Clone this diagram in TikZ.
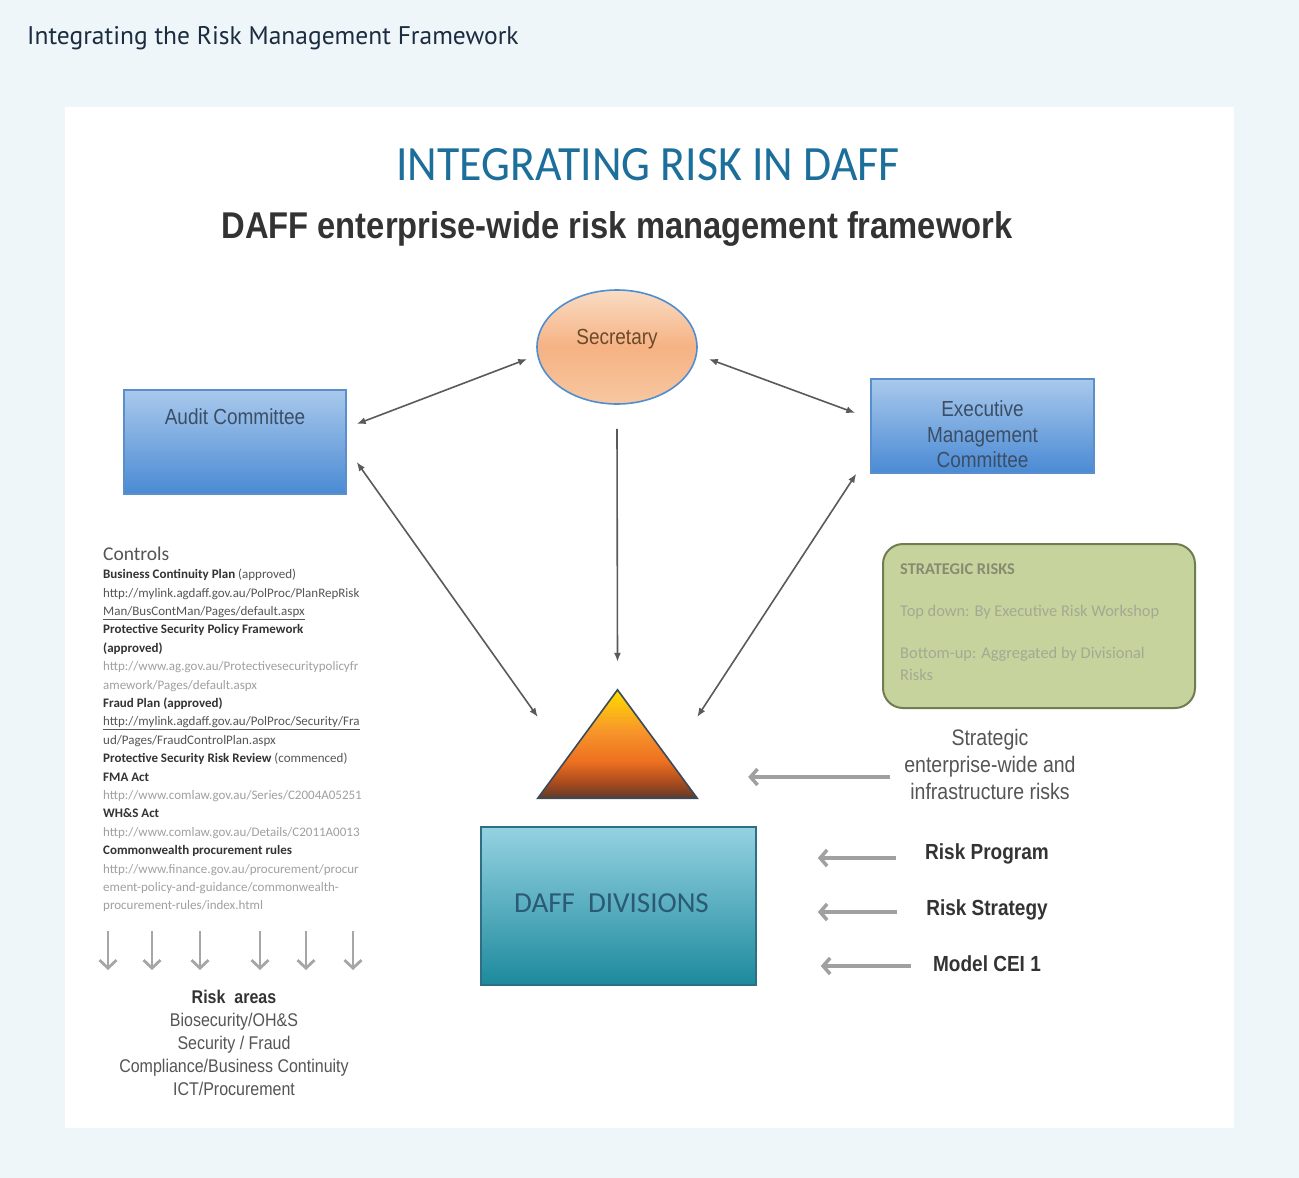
\documentclass[tikz,border=0pt]{standalone}
\usepackage{graphicx}
\usepackage{fontspec}
\setmainfont{Liberation Sans}
\newfontfamily\carl{Carlito}
\newfontfamily\ptsans{PT Sans}
\usetikzlibrary{arrows.meta,shapes.geometric}
\newcommand\tall[1]{\scalebox{1}[1.15]{#1}}
\definecolor{bg}{HTML}{EEF6FA}
\definecolor{head}{HTML}{1B2B40}
\definecolor{ttl}{HTML}{1C6E9B}
\definecolor{sub}{HTML}{333333}
\definecolor{secb}{HTML}{4F8ED0}
\definecolor{sectop}{HTML}{F9DCC4}
\definecolor{secmid}{HTML}{F6B283}
\definecolor{secbot}{HTML}{F7C7A0}
\definecolor{sectxt}{HTML}{6B4A2A}
\definecolor{boxb}{HTML}{5B8FCB}
\definecolor{boxtop}{HTML}{A9C9EC}
\definecolor{boxbot}{HTML}{4A8AD4}
\definecolor{boxtxt}{HTML}{3B4E66}
\definecolor{strfill}{HTML}{C6D39C}
\definecolor{strb}{HTML}{6E7E50}
\definecolor{strh}{HTML}{858C72}
\definecolor{strt}{HTML}{A3A993}
\definecolor{trib}{HTML}{3A4A5A}
\definecolor{triA}{HTML}{5C3A2A}
\definecolor{triB}{HTML}{A84A1E}
\definecolor{triC}{HTML}{EE7020}
\definecolor{triD}{HTML}{F7952A}
\definecolor{triE}{HTML}{FFDC00}
\definecolor{daffb}{HTML}{2F6F86}
\definecolor{dafftop}{HTML}{95D2E2}
\definecolor{daffbot}{HTML}{1C8A9C}
\definecolor{dafftxt}{HTML}{2B5A73}
\definecolor{arrc}{HTML}{5A5A5A}
\definecolor{garc}{HTML}{A0A0A0}
\definecolor{darkt}{HTML}{333333}
\definecolor{midt}{HTML}{555555}
\definecolor{lightt}{HTML}{A0A0A0}
\pgfdeclareverticalshading{trishade}{100bp}{color(0bp)=(triA); color(25bp)=(triA); color(32bp)=(triB); color(42bp)=(triC); color(56bp)=(triD); color(75bp)=(triE); color(100bp)=(triE)}
\tikzset{
  bluebox/.style={draw=boxb, line width=1.4pt, top color=boxtop, bottom color=boxbot, inner sep=0pt, text=boxtxt, font=\fontsize{19}{22}\selectfont},
  darr/.style={draw=arrc, line width=1.6pt, {Latex[length=9pt,width=7pt]}-{Latex[length=9pt,width=7pt]}},
  sarr/.style={draw=arrc, line width=1.6pt, -{Latex[length=9pt,width=7pt]}},
  garr/.style={draw=garc, line width=3.5pt, -{Straight Barb[length=7pt,width=16pt]}},
  downarr/.style={draw=gray!70, line width=2.8pt, -{Straight Barb[length=8pt,width=17pt]}},
  plain/.style={inner sep=0pt}
}
\begin{document}
\begin{tikzpicture}[x=1pt,y=-1pt]
\useasboundingbox (0,0) rectangle (1299,1178);
\fill[bg] (0,0) rectangle (1299,1178);
\fill[white] (65,107) rectangle (1234,1128);

\node[plain, anchor=west, font=\ptsans\fontsize{25.5}{30}\selectfont, text=head] (hd) at (27,38) {Integrating the Risk Management Framework};

\node[plain, anchor=base, text=ttl] (t1) at (648,180) {\resizebox{503pt}{32pt}{\carl INTEGRATING RISK IN DAFF}};
\node[plain, anchor=base, text=sub] (t2) at (617,238) {\resizebox{791pt}{27pt}{\bfseries DAFF enterprise-wide risk management framework}};

% Secretary
\node[ellipse, draw=secb, line width=1.6pt, minimum width=160pt, minimum height=114pt, top color=sectop, bottom color=secbot, middle color=secmid, text=sectxt, font=\fontsize{19}{22}\selectfont] (sec) at (617,347) {\raisebox{8pt}[\height][\depth]{\tall{Secretary}}};

% Audit committee
\node[bluebox, minimum width=222pt, minimum height=104pt] (audit) at (235,442) {\raisebox{25pt}[\height][\depth]{\tall{Audit Committee}}};

% Executive Management Committee
\node[bluebox, minimum width=223pt, minimum height=94pt] (exec) at (982.5,426) {\raisebox{-11pt}[\height][\depth]{\tall{\begin{tabular}{@{}c@{}}Executive\\Management\\Committee\end{tabular}}}};

% Strategic risks box
\node[draw=strb, line width=2pt, fill=strfill, rounded corners=20pt, minimum width=312pt, minimum height=164pt] (sbox) at (1039,626) {};
\node[plain, anchor=north west, align=left, font=\carl\fontsize{16.4}{22}\selectfont, text=strt] (stext) at (900,564)
  {{\color{strh}\bfseries STRATEGIC RISKS}\\[20pt]Top down: By Executive Risk Workshop\\[20pt]Bottom-up: Aggregated by Divisional\\Risks};

% Triangle
\node[plain, minimum width=159pt, minimum height=108pt] (tri) at (617.5,744) {};
\shade[shading=trishade, draw=trib, line width=1.6pt] (tri.north) -- (tri.south east) -- (tri.south west) -- cycle;

% DAFF divisions
\node[draw=daffb, line width=1.6pt, minimum width=275pt, minimum height=158pt, top color=dafftop, bottom color=daffbot, text=dafftxt, font=\carl\fontsize{29}{32}\selectfont] (daff) at (618.5,906) {\raisebox{3pt}[\height][\depth]{DAFF\ \ DIVISIONS}\kern14pt};

% Arrows between main nodes
\draw[darr] ([shift={(-9,12)}]sec.west) -- ([shift={(10,-18)}]audit.east);
\draw[darr] ([shift={(11,12)}]sec.east) -- ([shift={(-15,-13)}]exec.west);
\draw[sarr] ([shift={(0,24)}]sec.south) -- ([shift={(0,-28)}]tri.north);
\draw[darr] ([shift={(10,20)}]audit.east) -- ([shift={(0,-27)}]tri.west);
\draw[darr] ([shift={(-14,0)}]exec.south west) -- ([shift={(0,-27)}]tri.east);

% Strategic enterprise-wide text
\node[plain, text=midt, font=\fontsize{19.5}{23.5}\selectfont] (stxt) at (990,767) {\tall{\begin{tabular}{@{}c@{}}Strategic\\enterprise-wide and\\infrastructure risks\end{tabular}}};
\draw[garr] ([shift={(-14,10)}]stxt.west) -- ([shift={(51,33)}]tri.east);

% Risk program / strategy / model
\node[plain, text=darkt, font=\bfseries\fontsize{19}{22}\selectfont] (rp) at (987,854) {\tall{Risk Program}};
\node[plain, text=darkt, font=\bfseries\fontsize{19}{22}\selectfont] (rs) at (987,910) {\tall{Risk Strategy}};
\node[plain, text=darkt, font=\bfseries\fontsize{19}{22}\selectfont] (mc) at (987,964) {\tall{Model CEI 1}};
\draw[garr] ([shift={(-29,4)}]rp.west) -- ([shift={(61,-48)}]daff.east);
\draw[garr] ([shift={(-29,2)}]rs.west) -- ([shift={(61,6)}]daff.east);
\draw[garr] ([shift={(-22,2)}]mc.west) -- ([shift={(64,60)}]daff.east);

% Controls
\node[plain, anchor=base west, text=midt, font=\carl\fontsize{19.5}{22}\selectfont] (ctl) at (103,560) {Controls};
\node[plain, anchor=north west, align=left, font=\carl\fontsize{13}{18.4}\selectfont] (ctlist) at (103,569) {%
{\color{darkt}\bfseries Business Continuity Plan} {\color{midt}(approved)}\\
{\color{midt}http://mylink.agdaff.gov.au/PolProc/PlanRepRisk}\\
{\color{midt}\underline{Man/BusContMan/Pages/default.aspx}}\\
{\color{darkt}\bfseries Protective Security Policy Framework}\\
{\color{darkt}\bfseries (approved)}\\
{\color{lightt}http://www.ag.gov.au/Protectivesecuritypolicyfr}\\
{\color{lightt}amework/Pages/default.aspx}\\
{\color{darkt}\bfseries Fraud Plan (approved)}\\
{\color{midt}\underline{http://mylink.agdaff.gov.au/PolProc/Security/Fra}}\\
{\color{midt}ud/Pages/FraudControlPlan.aspx}\\
{\color{darkt}\bfseries Protective Security Risk Review} {\color{midt}(commenced)}\\
{\color{darkt}\bfseries FMA Act}\\
{\color{lightt}http://www.comlaw.gov.au/Series/C2004A05251}\\
{\color{darkt}\bfseries WH\&S Act}\\
{\color{lightt}http://www.comlaw.gov.au/Details/C2011A0013}\\
{\color{darkt}\bfseries Commonwealth procurement rules}\\
{\color{lightt}http://www.finance.gov.au/procurement/procur}\\
{\color{lightt}ement-policy-and-guidance/commonwealth-}\\
{\color{lightt}procurement-rules/index.html}};

% Down arrows
\foreach \x [count=\i] in {108,152,200,260,306,353} {
  \coordinate (ds\i) at (\x,931);
  \coordinate (de\i) at (\x,970);
  \draw[downarr] (ds\i) -- (de\i);
}

% Risk areas
\node[plain, text=midt, font=\fontsize{16}{20}\selectfont] (ra) at (234,1045) {\tall{\begin{tabular}{@{}c@{}}{\color{darkt}\bfseries Risk\ \ areas}\\Biosecurity/OH\&S\\Security / Fraud\\Compliance/Business Continuity\\ICT/Procurement\end{tabular}}};
\end{tikzpicture}
\end{document}
